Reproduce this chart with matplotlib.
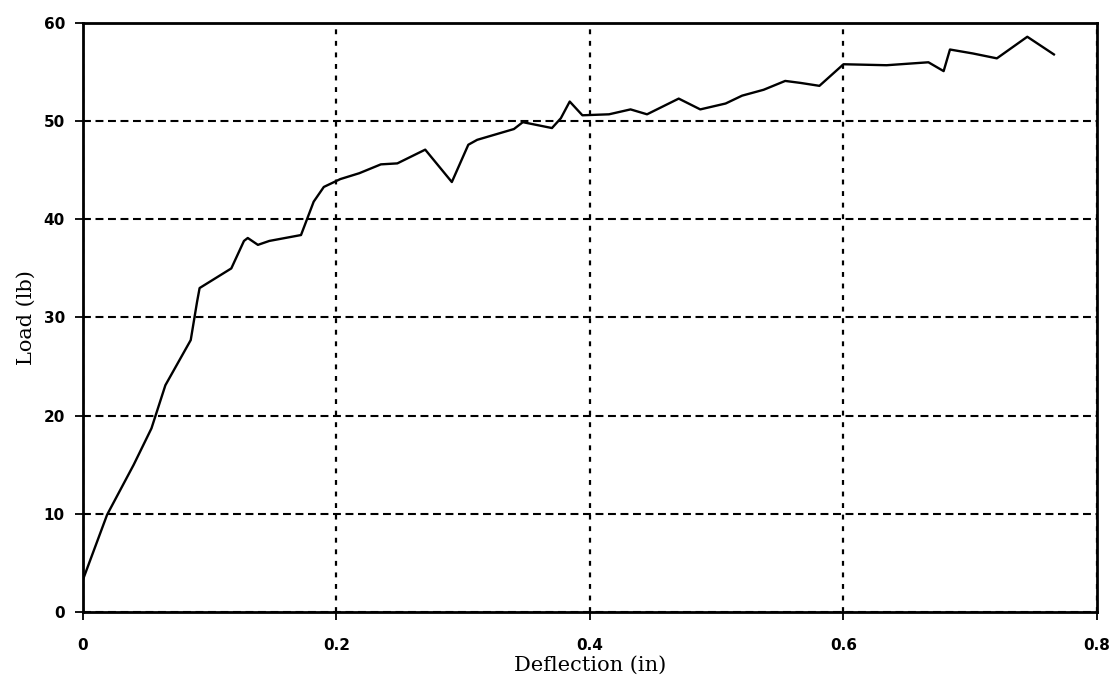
import matplotlib
matplotlib.use("Agg")
from matplotlib import pyplot as plt

# load-deflection test record
deflection = [0.0, 0.019, 0.040, 0.054, 0.065, 0.085, 0.090, 0.092, 0.117, 0.127,
              0.130, 0.138, 0.147, 0.172, 0.177, 0.182, 0.190, 0.203, 0.218, 0.235,
              0.248, 0.270, 0.291, 0.304, 0.311, 0.340, 0.347, 0.370, 0.377, 0.384,
              0.394, 0.415, 0.432, 0.445, 0.470, 0.487, 0.507, 0.520, 0.537, 0.554,
              0.566, 0.581, 0.600, 0.634, 0.667, 0.679, 0.684, 0.702, 0.721, 0.745,
              0.766]
load = [3.3, 9.9, 15.0, 18.7, 23.1, 27.7, 31.6, 33.0, 35.0, 37.8,
        38.1, 37.4, 37.8, 38.4, 40.1, 41.8, 43.3, 44.1, 44.7, 45.6,
        45.7, 47.1, 43.8, 47.6, 48.1, 49.2, 49.9, 49.3, 50.3, 52.0,
        50.6, 50.7, 51.2, 50.7, 52.3, 51.2, 51.8, 52.6, 53.2, 54.1,
        53.9, 53.6, 55.8, 55.7, 56.0, 55.1, 57.3, 56.9, 56.4, 58.6,
        56.8]

xticks = [0, 0.2, 0.4, 0.6, 0.8]
xtick_labels = ["0", "0.2", "0.4", "0.6", "0.8"]
yticks = [0, 10, 20, 30, 40, 50, 60]


def main():
    fig = plt.figure(figsize=(11.11, 6.85), dpi=100)
    ax = fig.add_axes([0.0747, 0.1066, 0.9127, 0.8598])

    ax.plot(deflection, load, color="black", lw=1.7, zorder=3)

    ax.set_xlim(0, 0.8)
    ax.set_ylim(0, 60)
    ax.set_xticks(xticks)
    ax.set_xticklabels(xtick_labels)
    ax.set_yticks(yticks)

    # horizontal grid dashed, vertical grid finer
    ax.yaxis.grid(True, color="black", linestyle=(0, (3.8, 2.2)), lw=1.5)
    ax.xaxis.grid(True, color="black", linestyle=(0, (2.2, 3.0)), lw=1.6)
    for s in ax.spines.values():
        s.set_linewidth(2.0)
        s.set_color("black")

    ax.tick_params(direction="out", length=6, width=1.3, labelsize=11)
    ax.tick_params(axis="x", pad=13)
    ax.tick_params(axis="y", pad=7)
    for lab in ax.get_xticklabels() + ax.get_yticklabels():
        lab.set_fontweight("bold")
        lab.set_family("DejaVu Sans")

    ax.set_xlabel("Deflection (in)", family="DejaVu Serif", fontsize=15)
    ax.set_ylabel("Load (lb)", family="DejaVu Serif", fontsize=15)
    ax.xaxis.set_label_coords(0.5, -0.074)
    ax.yaxis.set_label_coords(-0.047, 0.5)

    fig.savefig("out.png", dpi=100)


if __name__ == '__main__':
    main()
